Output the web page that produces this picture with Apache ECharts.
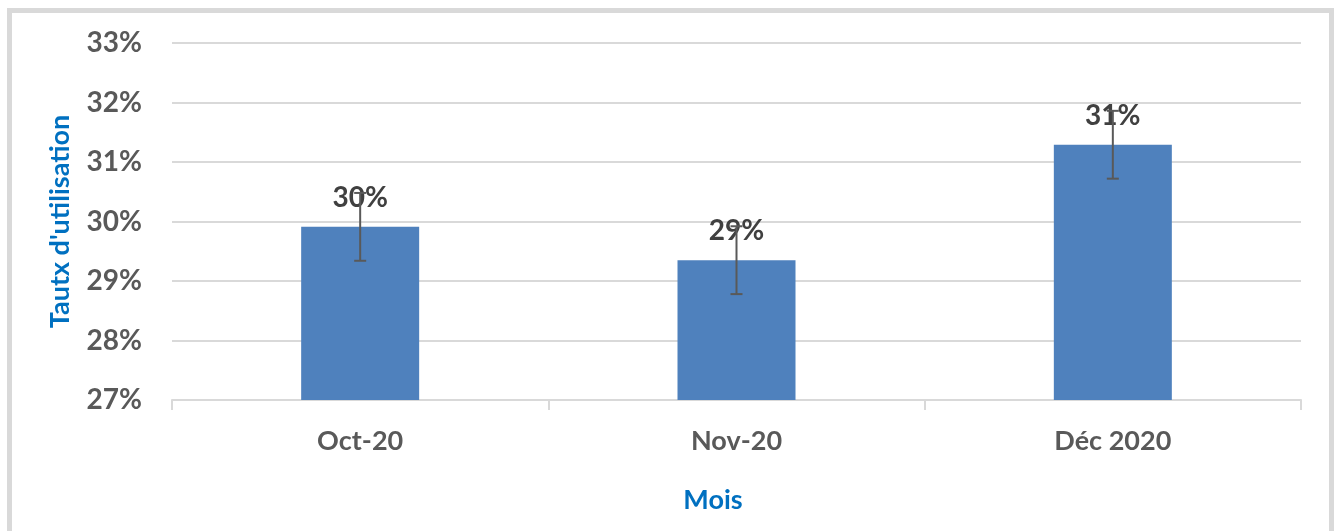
<!DOCTYPE html>
<html>
<head>
<meta charset="utf-8">
<script src="https://cdn.jsdelivr.net/npm/echarts@6/dist/echarts.min.js"></script>
<style>
html,body{margin:0;padding:0;background:#fff;}
#chart{width:1338px;height:531px;}
</style>
</head>
<body>
<div id="chart"></div>
<script>
var categories = ['Oct-20', 'Nov-20', 'Déc 2020'];
var values = [29.91, 29.35, 31.29];
var errors = [0.57, 0.57, 0.57];
var labels = ['30%', '29%', '31%'];
var yTicks = [27, 28, 29, 30, 31, 32, 33];

var errData = values.map(function (v, i) { return [i, v - errors[i], v + errors[i]]; });
var FONT = 'Lato, "Open Sans", sans-serif';

var chart = echarts.init(document.getElementById('chart'));
chart.setOption({
  animation: false,
  backgroundColor: '#fff',
  graphic: [{
    type: 'rect', z: -10,
    shape: { x: 9.5, y: 10.5, width: 1322, height: 560 },
    style: { fill: '#fff', stroke: '#d9d9d9', lineWidth: 5 }
  }],
  grid: { left: 172, right: 37, top: 43, bottom: 131 },
  xAxis: {
    type: 'category',
    data: categories,
    name: 'Mois',
    nameLocation: 'middle',
    nameGap: 87,
    nameTextStyle: { color: '#0070C0', fontWeight: 'bold', fontSize: 27, fontFamily: FONT, padding: [0, 47, 0, 0] },
    axisLine: { lineStyle: { color: '#d9d9d9', width: 2 } },
    axisTick: { show: true, length: 10, lineStyle: { color: '#d9d9d9', width: 2 } },
    axisLabel: { color: '#595959', fontWeight: 'bold', fontSize: 27, fontFamily: FONT, margin: 28 }
  },
  yAxis: {
    type: 'value',
    min: yTicks[0], max: yTicks[yTicks.length - 1], interval: 1,
    name: "Tautx d'utilisation",
    nameLocation: 'middle',
    nameGap: 98,
    nameTextStyle: { color: '#0070C0', fontWeight: 'bold', fontSize: 27, fontFamily: FONT },
    axisLine: { show: false },
    axisTick: { show: false },
    splitLine: { lineStyle: { color: '#d9d9d9', width: 2 } },
    axisLabel: { color: '#595959', fontWeight: 'bold', fontSize: 28, fontFamily: FONT, margin: 30, formatter: '{value}%' }
  },
  series: [{
    type: 'bar',
    data: values,
    barWidth: 118,
    itemStyle: { color: '#4f81bd' },
    label: {
      show: true, position: 'top', distance: 15,
      formatter: function (p) { return labels[p.dataIndex]; },
      color: '#404040', fontWeight: 'bold', fontSize: 28, fontFamily: FONT
    }
  }, {
    type: 'custom',
    data: errData,
    z: 10,
    renderItem: function (params, api) {
      var x = api.value(0);
      var lo = api.coord([x, api.value(1)]);
      var hi = api.coord([x, api.value(2)]);
      var hw = 6;
      var st = { stroke: '#595959', lineWidth: 2 };
      return {
        type: 'group',
        children: [
          { type: 'line', shape: { x1: lo[0], y1: lo[1], x2: hi[0], y2: hi[1] }, style: st },
          { type: 'line', shape: { x1: lo[0] - hw, y1: lo[1], x2: lo[0] + hw, y2: lo[1] }, style: st },
          { type: 'line', shape: { x1: hi[0] - hw, y1: hi[1], x2: hi[0] + hw, y2: hi[1] }, style: st }
        ]
      };
    }
  }]
});
</script>
</body>
</html>
